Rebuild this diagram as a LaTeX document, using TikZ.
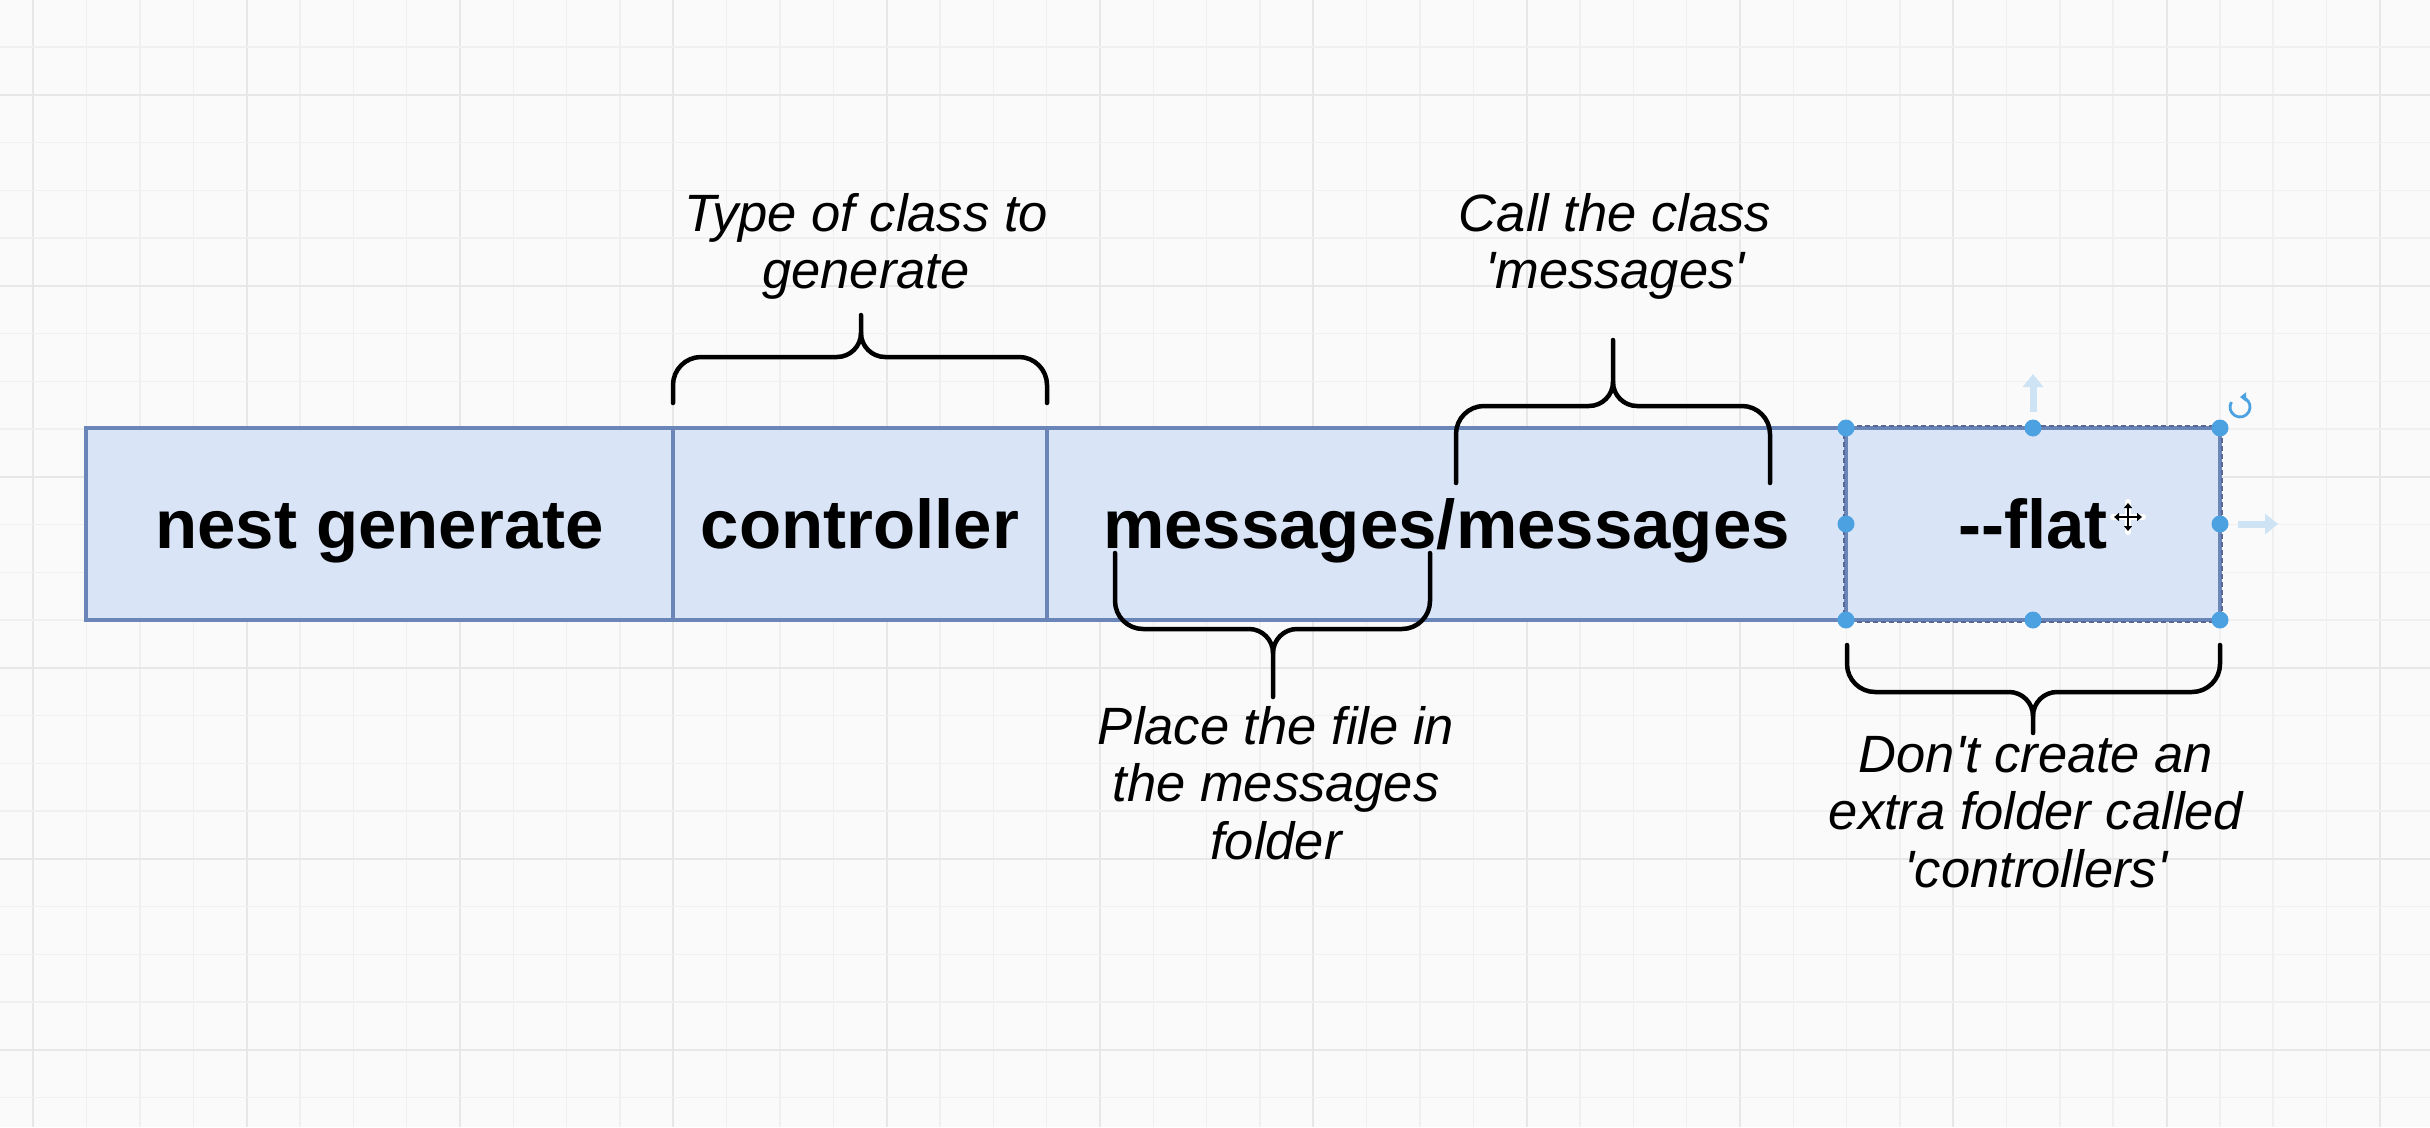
\documentclass[tikz,border=0pt]{standalone}
\usepackage{fontspec}
\setmainfont{Liberation Sans}
\usetikzlibrary{arrows.meta}

\definecolor{canvas}{RGB}{250,250,250}
\definecolor{gridminor}{RGB}{240,240,240}
\definecolor{gridmajor}{RGB}{231,231,231}
\definecolor{boxfill}{RGB}{217,228,246}
\definecolor{boxline}{RGB}{106,134,184}
\definecolor{selline}{RGB}{88,104,150}
\definecolor{handle}{RGB}{76,161,225}
\definecolor{ghost}{RGB}{206,228,245}

% curly brace: xl, xr, xm, y of ends, y of bar, y of tip, direction (+1 tip up, -1 tip down)
\def\bcorner{28}
\def\bmiddle{24}
\newcommand\curlybrace[7]{%
  \draw[bracestyle] (#1,#4) -- (#1,{#5+(#7)*\bcorner})
    .. controls (#1,{#5+(#7)*0.45*\bcorner}) and ({#1+0.45*\bcorner},#5) .. ({#1+\bcorner},#5)
    -- ({#3-\bmiddle},#5)
    .. controls ({#3-0.45*\bmiddle},#5) and (#3,{#5-(#7)*0.45*\bmiddle}) .. (#3,{#5-(#7)*\bmiddle})
    -- (#3,#6);
  \draw[bracestyle] (#2,#4) -- (#2,{#5+(#7)*\bcorner})
    .. controls (#2,{#5+(#7)*0.45*\bcorner}) and ({#2-0.45*\bcorner},#5) .. ({#2-\bcorner},#5)
    -- ({#3+\bmiddle},#5)
    .. controls ({#3+0.45*\bmiddle},#5) and (#3,{#5-(#7)*0.45*\bmiddle}) .. (#3,{#5-(#7)*\bmiddle});
}

\begin{document}
\begin{tikzpicture}[x=1pt,y=-1pt,
  gridmin/.style={draw=gridminor,line width=1.4pt},
  gridmaj/.style={draw=gridmajor,line width=2pt},
  cmdbox/.style={rectangle,draw=boxline,fill=boxfill,line width=3.5pt,
    minimum height=192pt,inner sep=0pt,text height=49pt,text depth=0pt,
    font=\fontsize{69}{80}\selectfont\bfseries},
  note/.style={font=\fontsize{52.5}{57.5}\selectfont\itshape,align=center,
    inner sep=0pt,anchor=north},
  bracestyle/.style={draw=black,line width=4.5pt,line cap=round,line join=round},
  grip/.style={fill=handle},
]
\useasboundingbox (0,0) rectangle (2430,1127);
\fill[canvas] (0,0) rectangle (2430,1127);

% background grid
\foreach \i in {0,...,45}{%
  \pgfmathsetmacro\gx{33.3+53.33*\i}%
  \pgfmathtruncatemacro\gm{mod(\i,4)}%
  \ifnum\gm=0 \draw[gridmaj] (\gx,0) -- (\gx,1127);\else\draw[gridmin] (\gx,0) -- (\gx,1127);\fi
}
\foreach \j in {1,...,23}{%
  \pgfmathsetmacro\gy{-0.6+47.75*\j}%
  \pgfmathtruncatemacro\gm{mod(\j,4)}%
  \ifnum\gm=2 \draw[gridmaj] (0,\gy) -- (2430,\gy);\else\draw[gridmin] (0,\gy) -- (2430,\gy);\fi
}

% command parts
\node[cmdbox,minimum width=587pt] (nestbox) at (379.5,524) {nest generate};
\node[cmdbox,minimum width=374pt] (ctrlbox) at (860,524) {controller};
\node[cmdbox,minimum width=799pt] (msgbox) at (1446.5,524) {messages/messages};
\node[cmdbox,minimum width=374pt] (flatbox) at (2033,524) {-{}-flat};
\draw[selline,line width=1.6pt,dash pattern=on 5pt off 3pt]
  (flatbox.north west) rectangle (flatbox.south east);

% braces
\curlybrace{673}{1047}{861}{403}{357}{315}{1}
\curlybrace{1456}{1770}{1613}{483}{406}{340}{1}
\curlybrace{1115}{1430}{1273}{553}{629}{697}{-1}
\curlybrace{1847}{2220}{2033}{645}{692}{733}{-1}

% notes
\node[note] (typenote) at (866,193) {Type of class to\\generate};
\node[note] (callnote) at (1615,193) {Call the class\\\textquotesingle messages\textquotesingle};
\node[note] (placenote) at (1276,706) {Place the file in\\the messages\\folder};
\node[note] (flatnote) at (2036,736) {Don\textquotesingle t create an\\extra folder called\\\textquotesingle controllers\textquotesingle};

% selection handles
\foreach \hx/\hy in {1846/428,2033/428,2220/428,1846/524,2220/524,1846/620,2033/620,2220/620}{%
  \fill[grip] (\hx,\hy) circle (8.5pt);
}
\draw[ghost,line width=7pt,-{Triangle[length=13pt,width=20pt]}] (2033,412) -- (2033,374);
\draw[ghost,line width=7pt,-{Triangle[length=13pt,width=20pt]}] (2238,524) -- (2278,524);
\draw[handle,line width=2.8pt,-{Triangle[length=6pt,width=9pt]}]
  (2240,407) ++(150:10pt) arc[start angle=150,end angle=450,radius=10pt];

% move cursor
\draw[white,line width=6pt,line cap=round] (2113,517) -- (2143,517) (2128,502) -- (2128,532);
\draw[black,line width=2pt,{Triangle[length=5pt,width=8pt]}-{Triangle[length=5pt,width=8pt]}] (2114,517) -- (2142,517);
\draw[black,line width=2pt,{Triangle[length=5pt,width=8pt]}-{Triangle[length=5pt,width=8pt]}] (2128,503) -- (2128,531);
\end{tikzpicture}
\end{document}
